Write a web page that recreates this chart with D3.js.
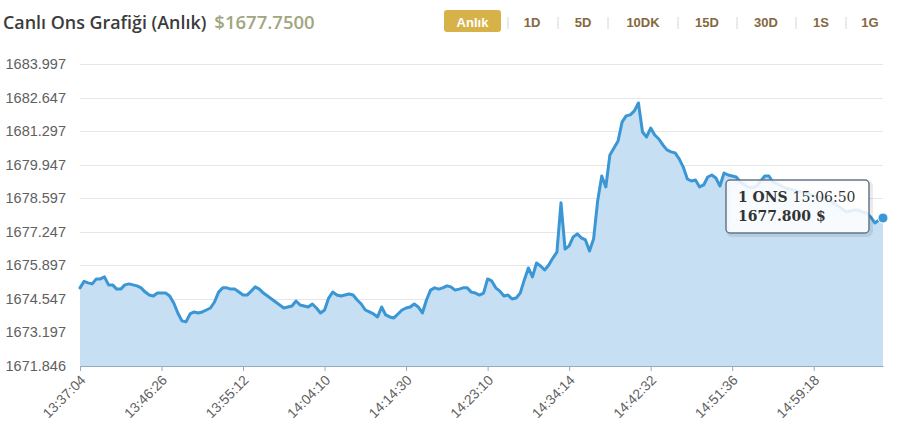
<!DOCTYPE html>
<html>
<head>
<meta charset="utf-8">
<script src="https://cdn.jsdelivr.net/npm/d3@7/dist/d3.min.js"></script>
<style>
  html, body { margin: 0; padding: 0; background: #fff; }
  svg { display: block; }
</style>
</head>
<body>
<svg id="chart" width="899" height="445"></svg>
<script>
// ---- data ----
const titleText = "Canlı Ons Grafiği (Anlık)";
const priceText = "$1677.7500";
const rangeButtons = ["Anlık", "1D", "5D", "10DK", "15D", "30D", "1S", "1G"];
const yTicks = [1671.846, 1673.197, 1674.547, 1675.897, 1677.247, 1678.597, 1679.947, 1681.297, 1682.647, 1683.997];
const xTickLabels = ["13:37:04", "13:46:26", "13:55:12", "14:04:10", "14:14:30", "14:23:10", "14:34:14", "14:42:32", "14:51:36", "14:59:18"];
const xTickEvery = 20;
const lastTime = "15:06:50";
const seriesName = "1 ONS";
const values = [
  1674.99, 1675.25, 1675.19, 1675.15, 1675.35, 1675.35, 1675.43, 1675.11, 1675.11, 1674.94,
  1674.94, 1675.11, 1675.15, 1675.11, 1675.07, 1674.99, 1674.82, 1674.70, 1674.66, 1674.78,
  1674.78, 1674.78, 1674.66, 1674.38, 1673.98, 1673.66, 1673.62, 1673.94, 1674.02, 1673.98,
  1674.02, 1674.10, 1674.18, 1674.42, 1674.82, 1674.99, 1674.99, 1674.94, 1674.94, 1674.82,
  1674.70, 1674.70, 1674.86, 1675.03, 1674.94, 1674.78, 1674.66, 1674.54, 1674.42, 1674.30,
  1674.18, 1674.22, 1674.26, 1674.46, 1674.30, 1674.26, 1674.22, 1674.34, 1674.18, 1673.98,
  1674.10, 1674.58, 1674.82, 1674.70, 1674.66, 1674.70, 1674.74, 1674.70, 1674.50, 1674.34,
  1674.10, 1674.02, 1673.94, 1673.82, 1674.22, 1673.90, 1673.82, 1673.78, 1673.94, 1674.10,
  1674.18, 1674.22, 1674.34, 1674.22, 1673.98, 1674.50, 1674.90, 1674.99, 1674.94, 1674.99,
  1675.07, 1675.03, 1674.90, 1674.94, 1674.99, 1674.99, 1674.82, 1674.78, 1674.70, 1674.78,
  1675.35, 1675.27, 1674.99, 1674.86, 1674.66, 1674.70, 1674.54, 1674.58, 1674.78, 1675.31,
  1675.79, 1675.43, 1675.99, 1675.87, 1675.71, 1675.91, 1676.19, 1676.43, 1678.41, 1676.55,
  1676.68, 1677.04, 1677.16, 1677.00, 1676.92, 1676.47, 1676.96, 1678.49, 1679.49, 1679.05,
  1680.34, 1680.62, 1680.90, 1681.67, 1681.91, 1681.95, 1682.11, 1682.43, 1681.26, 1681.06,
  1681.42, 1681.14, 1680.98, 1680.74, 1680.54, 1680.46, 1680.42, 1680.18, 1679.85, 1679.37,
  1679.29, 1679.33, 1679.05, 1679.13, 1679.45, 1679.53, 1679.41, 1679.09, 1679.61, 1679.53,
  1679.49, 1679.45, 1679.25, 1679.13, 1679.05, 1679.01, 1679.09, 1679.29, 1679.49, 1679.49,
  1679.25, 1679.17, 1679.09, 1679.01, 1678.97, 1678.93, 1678.89, 1678.85, 1678.81, 1678.77,
  1678.69, 1678.65, 1678.61, 1678.57, 1678.49, 1678.37, 1678.29, 1678.16, 1678.04, 1678.08,
  1678.12, 1678.12, 1678.04, 1678.00, 1677.84, 1677.60, 1677.72, 1677.80
];

// ---- layout ----
const svg = d3.select("#chart");
const plot = { left: 80, right: 883, top: 64, bottom: 366 };

const x = d3.scaleLinear().domain([0, values.length - 1]).range([plot.left, plot.right]);
const y = d3.scaleLinear().domain([yTicks[0], yTicks[yTicks.length - 1]]).range([plot.bottom, plot.top]);

// header
const title = svg.append("text")
  .attr("x", 3).attr("y", 28.5)
  .style("font-family", "'Open Sans', sans-serif")
  .style("font-weight", 600)
  .style("font-size", "17.9px")
  .attr("fill", "#3b3b3b")
  .text(titleText);
const tw = title.node().getComputedTextLength();
svg.append("text")
  .attr("x", 3 + tw + 8).attr("y", 28.5)
  .style("font-family", "'Open Sans', sans-serif")
  .style("font-weight", 600)
  .style("font-size", "18.5px")
  .attr("fill", "#a1a67e")
  .text(priceText);

// range buttons
const btnCenters = [472.5, 532, 583, 643, 707, 766, 821, 870];
const sepXs = [508, 558, 608, 678, 737, 796, 846];
const btnG = svg.append("g");
btnG.append("rect")
  .attr("x", 444).attr("y", 10).attr("width", 57).attr("height", 22)
  .attr("rx", 3).attr("fill", "#d6b249");
btnG.selectAll("text.btn").data(rangeButtons).join("text")
  .attr("class", "btn")
  .attr("x", (d, i) => btnCenters[i]).attr("y", 26.5)
  .attr("text-anchor", "middle")
  .style("font-family", "'Liberation Sans', Arial, sans-serif")
  .style("font-weight", 700)
  .style("font-size", "13px")
  .attr("fill", (d, i) => i === 0 ? "#ffffff" : "#86683d")
  .text(d => d);
btnG.selectAll("text.sep").data(sepXs).join("text")
  .attr("class", "sep")
  .attr("x", d => d).attr("y", 26)
  .attr("text-anchor", "middle")
  .style("font-family", "'Liberation Sans', Arial, sans-serif")
  .style("font-size", "13px")
  .attr("fill", "#dddddd")
  .text("|");

// grid lines
svg.append("g").selectAll("line").data(yTicks).join("line")
  .attr("x1", plot.left).attr("x2", plot.right)
  .attr("y1", d => Math.round(y(d)) + 0.5).attr("y2", d => Math.round(y(d)) + 0.5)
  .attr("stroke", "#e6e6e6").attr("stroke-width", 1);

// y labels
svg.append("g").selectAll("text").data(yTicks).join("text")
  .attr("x", 66).attr("y", d => y(d) + 5)
  .attr("text-anchor", "end")
  .style("font-family", "'Liberation Sans', Arial, sans-serif")
  .style("font-size", "14.5px")
  .attr("fill", "#606060")
  .text(d => d3.format(".3f")(d));

// area + line
const area = d3.area()
  .x((d, i) => x(i)).y0(plot.bottom).y1(d => y(d));
const line = d3.line()
  .x((d, i) => x(i)).y(d => y(d));

svg.append("path").datum(values)
  .attr("d", area)
  .attr("fill", "#c6dff3");
svg.append("path").datum(values)
  .attr("d", line)
  .attr("fill", "none")
  .attr("stroke", "#3a96d4")
  .attr("stroke-width", 3)
  .attr("stroke-linejoin", "round")
  .attr("stroke-linecap", "round");

// x axis
const tickIdx = xTickLabels.map((d, i) => i * xTickEvery);
const xAxis = d3.axisBottom(x)
  .tickValues(tickIdx)
  .tickSize(5)
  .tickSizeOuter(0)
  .tickFormat((d, i) => xTickLabels[i]);
const gx = svg.append("g")
  .attr("transform", `translate(0,${plot.bottom})`)
  .call(xAxis);
gx.select(".domain").attr("stroke", "#98aabf").attr("stroke-width", 1.2);
gx.selectAll(".tick line").attr("stroke", "#98aabf");
gx.selectAll(".tick text")
  .attr("fill", "#606060")
  .style("font-family", "'Liberation Sans', Arial, sans-serif")
  .style("font-size", "13.8px")
  .attr("text-anchor", "end")
  .attr("x", 0).attr("y", 0)
  .attr("dy", 0)
  .attr("transform", "translate(6,15) rotate(-45)");

// tooltip
const tip = svg.append("g");
tip.append("rect")
  .attr("x", 727).attr("y", 181).attr("width", 143).attr("height", 53)
  .attr("rx", 4)
  .attr("fill", "none")
  .attr("stroke", "rgba(0,0,0,0.08)")
  .attr("stroke-width", 4)
  .attr("transform", "translate(1,1)");
tip.append("rect")
  .attr("x", 726).attr("y", 180).attr("width", 143).attr("height", 53)
  .attr("rx", 4)
  .attr("fill", "rgba(255,255,255,0.86)")
  .attr("stroke", "#63758d")
  .attr("stroke-width", 1.5);
const t1 = tip.append("text")
  .attr("x", 738).attr("y", 202)
  .style("font-family", "'DejaVu Serif', serif")
  .style("font-size", "14px")
  .attr("fill", "#333");
t1.append("tspan").style("font-weight", 700).text(seriesName + " ");
t1.append("tspan").text(lastTime);
tip.append("text")
  .attr("x", 738).attr("y", 221)
  .style("font-family", "'DejaVu Serif', serif")
  .style("font-size", "14px")
  .style("font-weight", 700)
  .attr("fill", "#333")
  .text(d3.format(".3f")(values[values.length - 1]) + " $");

// end marker
svg.append("circle")
  .attr("cx", x(values.length - 1)).attr("cy", y(values[values.length - 1]))
  .attr("r", 5)
  .attr("fill", "#3a96d4")
  .attr("stroke", "#ffffff").attr("stroke-width", 1);
</script>
</body>
</html>
